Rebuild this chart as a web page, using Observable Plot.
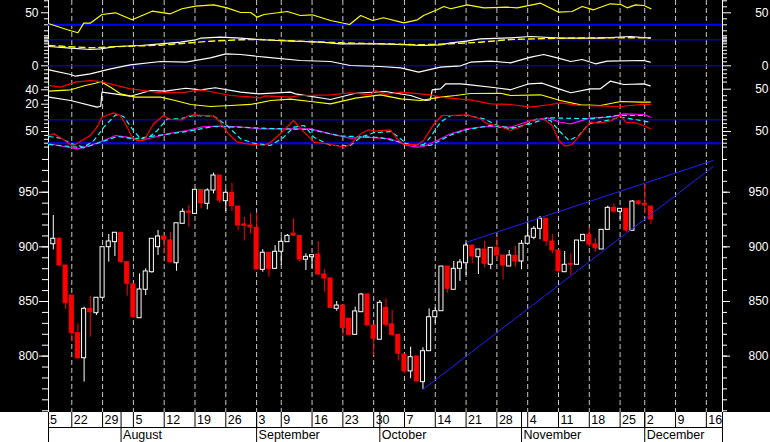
<!DOCTYPE html>
<html><head><meta charset="utf-8">
<script src="https://cdn.jsdelivr.net/npm/d3@7"></script>
<script src="https://cdn.jsdelivr.net/npm/@observablehq/plot@0.6"></script>
<style>
html,body{margin:0;padding:0;background:#000;}
#chart{position:relative;width:770px;height:442px;background:#000;overflow:hidden;}
#chart svg{position:absolute;left:0;overflow:visible;max-width:none;}
</style></head><body><div id="chart"></div>
<script>
// ---------- candles (S&P 500, Jul 17 – Dec 3 2002, one per trading day) ----------
const opens  = [902.4,907.4,882.9,855.5,821.0,798.1,843.3,839.3,853.4,899.7,904.3,912.9,886.0,865.6,834.7,860.7,876.8,899.7,909.5,905.8,885.0,921.1,932.3,930.2,952.2,939.4,951.6,965.3,941.8,949.5,936.9,920.5,919.5,917.4,879.0,894.6,879.9,895.5,904.3,912.2,910.1,888.2,890.5,893.0,874.7,871.1,843.3,846.3,834.2,819.5,840.2,856.4,828.0,815.0,844.2,829.0,819.5,801.5,786.0,799.7,776.2,804.5,835.6,841.1,882.0,860.7,879.9,885.0,901.2,890.5,897.6,883.6,899.1,892.1,882.0,891.8,886.6,902.8,908.3,916.5,925.7,904.9,896.7,876.8,884.5,883.6,905.2,911.0,902.2,897.6,915.6,935.7,932.1,934.8,914.7,941.5,939.4,936.9];
const highs  = [928.7,908.3,882.9,855.5,829.6,844.8,854.6,853.4,899.7,911.3,912.9,912.9,886.0,865.6,875.3,879.9,907.4,915.0,909.5,913.4,921.6,934.8,937.8,952.2,952.2,953.1,967.4,965.3,952.5,958.2,936.9,927.1,930.2,930.8,897.3,894.6,901.2,908.3,911.3,925.7,910.1,893.6,892.4,904.9,879.3,871.1,850.0,846.3,834.2,844.8,857.1,856.4,828.0,850.9,852.5,841.8,819.5,801.5,808.2,799.7,807.6,843.3,844.2,882.0,882.0,886.6,888.4,903.7,901.2,897.6,905.2,899.1,908.3,892.1,896.7,900.3,905.8,922.6,918.6,927.8,925.7,911.3,896.7,895.8,893.6,905.8,911.0,917.4,907.4,915.6,937.2,939.4,934.8,934.8,942.4,942.4,957.1,936.9];
const lows   = [897.3,882.9,842.7,813.4,796.9,776.2,817.3,837.2,853.4,886.0,891.2,884.5,854.9,834.5,834.7,855.5,875.9,892.1,894.2,885.0,877.7,921.1,918.0,930.2,934.8,933.9,948.5,939.9,932.3,932.3,915.0,905.2,911.9,879.3,876.8,872.2,879.9,882.9,904.3,909.5,886.0,878.4,879.9,873.8,858.5,844.2,841.1,818.0,818.3,819.5,840.2,828.0,800.6,815.0,826.5,818.0,795.4,783.9,779.3,776.2,769.5,804.5,829.6,841.1,857.6,860.7,868.3,873.8,884.5,874.7,880.8,879.0,887.5,869.9,882.0,881.4,879.0,902.8,906.5,906.5,900.6,893.6,875.9,876.8,873.8,883.6,905.2,899.7,895.1,897.6,915.6,930.8,924.8,913.4,914.7,937.8,930.2,920.5];
const closes = [907.4,882.9,848.4,821.0,798.1,843.3,840.2,853.4,899.7,904.9,912.9,886.0,866.2,835.6,861.0,877.5,907.4,909.5,906.5,886.0,921.6,932.1,931.2,952.2,939.9,951.6,965.3,942.4,949.5,937.2,919.5,919.3,917.7,879.3,894.6,879.9,895.5,904.6,910.1,910.4,888.4,890.9,892.4,874.7,871.1,844.2,846.3,825.9,819.5,840.9,856.4,828.0,815.9,848.8,828.7,819.5,802.2,786.0,799.0,776.8,804.5,835.6,841.1,882.0,861.6,879.9,885.7,901.2,891.2,897.6,884.5,899.1,892.1,882.9,892.1,886.6,902.8,909.5,916.5,925.7,905.2,896.7,877.7,883.6,883.6,905.8,911.0,902.2,898.8,915.6,935.7,932.3,934.8,915.0,941.5,939.4,937.8,925.0];

// ---------- trend lines (trading-day index, price) ----------
const trendLower = [{i: 60, p: 769.5}, {i: 107.1, p: 973.5}];
const trendUpper = [{i: 67.1, p: 904.3}, {i: 107.1, p: 979.0}];

// ---------- date axis ----------
const weekIdx    = [-2, 3, 8, 13, 18, 23, 28, 33, 37, 42, 47, 52, 57, 62, 67, 72, 77, 82, 87, 92, 96, 101, 106];
const weekLabels = ["15","22","29","5","12","19","26","3","9","16","23","30","7","14","21","28","4","11","18","25","2","9","16"];
const monthIdx    = [11, 33, 53, 76, 96];
const monthLabels = ["August","September","October","November","December"];

// ---------- indicators: [trading-day index, value] ----------
const ind1Yellow = [[-0.7,31.7],[2.3,21.7],[4.0,16.7],[4.95,32.7],[6.0,32.7],[7.9,47.2],[10.1,50],[12.8,38.3],[16.05,52.7],[19.0,48.3],[20.9,56.7],[23.1,61],[26.05,63.3],[28.2,58.3],[30.4,50.5],[32.0,50.5],[33.1,42.7],[34.2,47.2],[38.0,52.2],[40.1,45.5],[42.0,46.7],[45.0,37.2],[48.1,30.5],[49.9,45.5],[51.8,37.2],[53.6,41.7],[56.9,33.3],[59.1,38.3],[60.1,45.5],[62.3,55],[63.4,60.5],[64.5,56.7],[67.2,63.3],[69.9,58.3],[73.7,59.3],[75.3,58.3],[79.1,66],[82.05,51],[84.2,52.2],[85.85,60.5],[87.7,55],[90.4,65],[92.1,63.8],[93.15,58.3],[94.5,63.3],[95.85,62.2],[97.0,56.7]];
const ind2White = [[-0.7,-13.4],[2.8,-16.8],[6.0,-19.4],[7.7,-18],[10.1,-13.4],[14.15,-11.4],[17.4,-8],[20.65,-4.8],[23.1,0],[23.9,3.2],[27.1,5.2],[30.4,3.2],[33.3,0.6],[36.1,-1.4],[43.4,-4.8],[46.6,-8],[53.1,-8],[58.0,-10],[59.6,-11.4],[62.85,-10],[64.5,-6],[67.1,-2.8],[69.3,2],[74.2,4],[77.5,6.6],[82.3,3.2],[88.8,3.2],[93.7,6.6],[96.9,3.2]];
const ind2Yellow = [[-0.7,-11.4],[6.0,-16],[12.5,-12.8],[17.4,-10.8],[22.3,-6],[25.5,-2.8],[30.4,0],[33.3,0.6],[40.1,-2.8],[46.6,-6],[53.1,-8],[59.6,-10],[64.5,-8],[69.3,-4.8],[74.2,0.6],[82.3,3.2],[88.8,4],[96.9,4]];
const ind3White = [[-0.7,-4],[2.8,-8.7],[3.6,-10.4],[6.0,-8],[9.3,-3],[12.5,1],[17.4,4.3],[21.5,3.6],[25.5,8],[28.0,12],[30.4,11.3],[33.3,9.3],[34.4,8.6],[40.1,5.3],[45.0,4.3],[48.2,0.3],[53.1,-0.7],[56.4,-2],[59.3,-6.4],[62.85,-1.4],[66.1,0],[67.7,3.6],[71.0,4.6],[74.2,3],[77.5,8.6],[79.6,11.3],[81.8,8],[84.0,4.3],[85.85,6.3],[88.0,2],[89.9,4.6],[95.85,5.3],[96.9,3.6]];
const ind4Red = [[-0.7,47.7],[1.2,45.1],[3.6,52.8],[6.0,55.4],[7.7,53.8],[12.5,42.6],[17.4,36.5],[21.5,37.4],[23.9,41.1],[28.8,32.3],[33.6,28.8],[34.4,31.8],[38.5,29.7],[40.1,32.3],[45.0,33.4],[48.2,36.5],[51.5,33.4],[52.3,40],[53.9,33.8],[56.4,37.4],[59.6,34.9],[61.2,33.4],[62.85,29.7],[66.1,26.6],[67.7,25.7],[71.0,19.5],[74.2,18.5],[77.5,14.3],[80.7,18.5],[82.3,21.1],[85.6,16.9],[92.1,15.4],[95.3,18.5],[96.9,18.5]];
const ind4Yellow = [[-0.7,38.9],[2.8,41.1],[5.2,47.7],[6.85,51.2],[7.7,53.8],[9.3,45.1],[10.9,34.9],[13.3,29.7],[17.4,29.7],[19.8,24.6],[22.3,18.5],[25.5,15.4],[28.8,16.9],[32.0,18.5],[35.3,24.6],[38.5,26.6],[41.75,23.1],[45.0,19.5],[49.05,28.2],[53.1,33.4],[56.4,27.2],[59.6,24.6],[62.85,29.7],[65.3,32.3],[67.7,35.4],[72.6,35.8],[74.2,32.3],[79.1,33.4],[82.3,24.6],[85.6,18],[88.8,16.9],[92.1,23.1],[95.3,22],[96.9,22]];
const ind4White = [[-0.7,29.7],[2.8,24.6],[7.1,14.3],[7.7,15.8],[7.9,37.4],[12.5,31.2],[15.8,40],[18.2,38.9],[21.5,43.5],[23.9,41.1],[26.3,44.2],[30.4,37.4],[33.3,34.9],[38.5,37.4],[39.3,34.9],[45.0,26.2],[49.05,35.8],[53.9,38.5],[58.0,32.3],[60.4,24.6],[61.2,25.7],[61.5,41.1],[62.85,42.6],[63.7,50.3],[66.1,50.3],[67.7,48.8],[71.8,44.2],[74.2,41.1],[77.2,50.3],[79.35,51.2],[82.05,42.6],[84.0,36.5],[87.2,42.6],[88.8,42.6],[90.4,54.3],[92.6,49.2],[95.85,50.3],[96.9,47.2]];
const ind5Red = [[-0.7,39.7],[0.1,44.1],[2.3,22.6],[3.1,12.3],[3.9,20],[6.0,39.7],[7.1,61],[7.9,86.7],[9.8,97.9],[10.9,91],[12.0,61],[12.8,35.4],[13.6,26.9],[14.7,26.9],[16.3,69.7],[17.9,91],[19.0,80.8],[20.9,80],[22.0,91],[22.8,92.8],[26.05,89.2],[27.1,73.8],[28.2,48.2],[29.85,22.6],[31.5,18.5],[34.2,14.1],[35.25,22.6],[37.15,48.2],[39.0,78.2],[40.7,48.2],[42.3,22.6],[44.5,18.5],[47.15,9.7],[48.2,16.7],[49.9,44.1],[51.2,54.4],[52.3,50.8],[54.7,54.4],[55.8,31.3],[56.9,16.7],[59.1,16.7],[60.1,26.9],[61.8,69.7],[63.1,91],[64.5,91],[67.2,92.8],[69.3,82.6],[70.4,69.7],[72.05,65.4],[74.2,52.6],[75.8,61],[77.5,78.2],[79.6,82.6],[81.0,65.4],[82.05,26.9],[83.1,12.3],[84.2,16.7],[85.85,48.2],[87.2,73.8],[88.5,71.3],[90.4,76.4],[92.1,91],[92.9,73.8],[94.8,71.3],[97.0,56.9]];
const ind5CyanFast = [[-0.7,37.2],[0.9,33.8],[3.1,18.5],[4.95,9.7],[6.6,26.9],[8.2,61],[10.1,92.8],[11.4,88.5],[12.8,56.9],[14.15,31.3],[15.5,35.4],[16.9,52.6],[18.5,82.6],[20.65,82.6],[22.8,91],[26.05,89.2],[28.2,65.4],[30.4,31.3],[32.5,20],[35.25,14.1],[37.4,35.4],[39.0,61],[40.7,65.4],[42.3,35.4],[45.0,14.1],[48.2,14.1],[49.9,35.4],[52.0,46.7],[54.7,50],[56.1,35.4],[57.4,16.7],[60.1,15.9],[61.2,35.4],[62.85,73.8],[64.5,91],[67.2,91],[69.9,82.6],[72.05,65.4],[74.2,59],[76.4,65.4],[78.5,82.6],[80.7,78.2],[82.05,52.6],[83.7,26.9],[85.3,39.7],[86.9,69.7],[90.4,80],[92.1,86.7],[93.7,82.6],[96.9,73.8]];
const ind5Magenta = [[-0.7,18.5],[2.3,9.7],[3.9,5.6],[6.0,14.1],[8.2,26.9],[10.1,39.7],[12.0,35.4],[14.15,26.9],[16.9,37.2],[18.5,44.1],[21.7,52.6],[23.9,61],[26.6,63.6],[29.3,62.8],[33.6,56.9],[37.4,56.9],[41.75,56.9],[45.0,44.1],[48.2,32.8],[50.95,35.4],[54.7,31.3],[57.4,14.1],[59.1,9.7],[60.1,11.5],[62.3,26.9],[64.5,44.1],[67.2,56.9],[69.9,62.8],[74.2,61],[77.5,78.2],[80.2,85.1],[82.3,73.8],[84.0,69.7],[87.2,85.1],[90.4,86.7],[92.6,95.4],[95.85,93.6],[97.0,86.7]];
const ind5CyanSlow = [[-0.7,16.7],[4.95,8.2],[7.7,22.6],[10.4,37.2],[13.1,31.3],[16.9,39.7],[21.7,50],[26.05,62.8],[30.4,61],[35.25,57.7],[41.75,55.1],[46.6,38.5],[53.1,34.6],[58.0,16.7],[61.2,14.1],[64.5,41],[67.2,55.1],[71.0,65.4],[74.2,56.9],[77.5,69.7],[80.2,85.1],[87.2,82.6],[91.5,91],[95.85,91]];

// ---------- layout ----------
const W = 770, ML = 48, MR = 48;
const xDomain = [-0.78, 108.62];
const FONT = "'Liberation Sans', Arial, sans-serif";
const BLUE = "#0000ff";
const chart = document.getElementById("chart");

function place(opts, top) {
  const o = Object.assign({
    width: W, marginTop: 0, marginBottom: 0, marginLeft: ML, marginRight: MR,
    x: {domain: xDomain, axis: null},
    style: {background: "transparent", color: "white", fontFamily: FONT, fontSize: "12px", overflow: "visible"}
  }, opts);
  const svg = Plot.plot(o);
  svg.style.position = "absolute";
  svg.style.left = "0px";
  svg.style.top = top + "px";
  chart.appendChild(svg);
  return svg;
}
const blank = () => "";
function yAxes({minorL = [], minorR = minorL, major = [], majorR = major, fmtR, longL = 7, shortL = 4, longR = 8, shortR = 4, dyL = 0}) {
  return [
    Plot.axisY({anchor: "left", ticks: minorL, tickSize: shortL, tickFormat: blank, label: null}),
    Plot.axisY({anchor: "right", ticks: minorR, tickSize: shortR, tickFormat: blank, label: null}),
    Plot.axisY({anchor: "left", ticks: major, tickSize: longL, tickPadding: 48 - longL - 38, dy: dyL, label: null}),
    Plot.axisY({anchor: "right", ticks: majorR, tickSize: longR, tickPadding: 768 - 722 - longR, textAnchor: "end", label: null, ...(fmtR ? {tickFormat: fmtR} : {})})
  ];
}
const pts = {x: d => d[0], y: d => d[1]};

// background: weekly dashed grid + axis lines
place({height: 412, marks: [
  Plot.ruleX(weekIdx, {x: d => d, stroke: "#c8c8c8", strokeDasharray: "5,3", clip: true}),
  Plot.frame({anchor: "left", stroke: "white"}),
  Plot.frame({anchor: "right", stroke: "white"})
]}, 0);

// price panel
const candles = opens.map((o, i) => ({i, open: o, high: highs[i], low: lows[i], close: closes[i]}));
const up = candles.filter(d => d.close >= d.open);
const down = candles.filter(d => d.close < d.open);
place({height: 269, y: {domain: [748.4, 994.6]}, marks: [
  ...yAxes({minorL: d3.range(750, 990, 10), major: [800, 850, 900, 950], longL: 9, shortL: 6, longR: 7, shortR: 4}),
  Plot.ruleX(down, {x: "i", y1: "low", y2: "high", stroke: "#ff0000"}),
  Plot.rect(down, {x1: d => d.i - 0.33, x2: d => d.i + 0.33, y1: "open", y2: "close", fill: "#ff0000", stroke: "#ff0000"}),
  Plot.ruleX(up, {x: "i", y1: "low", y2: "high", stroke: "white"}),
  Plot.rect(up, {x1: d => d.i - 0.33, x2: d => d.i + 0.33, y1: "open", y2: "close", fill: "black", stroke: "white"}),
  Plot.line(trendLower, {x: "i", y: "p", stroke: "#2020ff", strokeWidth: 1}),
  Plot.line(trendUpper, {x: "i", y: "p", stroke: "#2020ff", strokeWidth: 1})
]}, 143);

// indicator 1
place({height: 34, y: {domain: [13.83, 70.5]}, marks: [
  ...yAxes({minorL: [70, 60, 40, 30, 20], major: [50]}),
  Plot.ruleY([30], {stroke: BLUE, strokeWidth: 2}),
  Plot.line(ind1Yellow, {...pts, stroke: "#ffff00", strokeWidth: 1.2})
]}, 0);

// indicator 2
place({height: 18, y: {domain: [-25.4, 10.6]}, marks: [
  ...yAxes({minorL: [8, 5, 2, -1, -4, -8, -14, -21]}),
  Plot.ruleY([0], {stroke: BLUE, strokeWidth: 1}),
  Plot.line(ind2White, {...pts, stroke: "white", strokeWidth: 1.2}),
  Plot.line(ind2Yellow, {...pts, stroke: "#ffff00", strokeWidth: 1.4, strokeDasharray: "6,4"})
]}, 34);

// indicator 3
place({height: 26, y: {domain: [-12.7, 13.3]}, marks: [
  ...yAxes({minorL: [12, 8, 4, -4, -8, -12], major: [0]}),
  Plot.ruleY([0], {stroke: BLUE, strokeWidth: 1}),
  Plot.line(ind3White, {...pts, stroke: "white", strokeWidth: 1.2})
]}, 52);

// indicator 4
place({height: 32, y: {domain: [9.23, 58.46]}, marks: [
  ...yAxes({minorL: [58, 53, 45, 32, 25, 14], minorR: [53, 32, 25, 14], majorR: [42], fmtR: () => "50"}),
  Plot.axisY({anchor: "left", ticks: [40], tickSize: 7, tickPadding: 3, dy: -0.7, label: null}),
  Plot.axisY({anchor: "left", ticks: [20], tickSize: 7, tickPadding: 3, dy: 0.7, label: null}),
  Plot.line(ind4White, {...pts, stroke: "white", strokeWidth: 1.2}),
  Plot.line(ind4Yellow, {...pts, stroke: "#ffff00", strokeWidth: 1.2}),
  Plot.line(ind4Red, {...pts, stroke: "#ff0000", strokeWidth: 1.2})
]}, 78);

// indicator 5
place({height: 40, y: {domain: [1.28, 103.85]}, marks: [
  ...yAxes({minorL: [100, 90, 80, 70, 60, 40, 30, 20, 10], major: [50]}),
  Plot.ruleY([80], {stroke: BLUE, strokeWidth: 1}),
  Plot.ruleY([20], {stroke: BLUE, strokeWidth: 2}),
  Plot.line(ind5Magenta, {...pts, stroke: "#ff00ff", strokeWidth: 1.2}),
  Plot.line(ind5CyanSlow, {...pts, stroke: "#00ffff", strokeWidth: 1.2, strokeDasharray: "4,4"}),
  Plot.line(ind5CyanFast, {...pts, stroke: "#00ffff", strokeWidth: 1.2, strokeDasharray: "4,4"}),
  Plot.line(ind5Red, {...pts, stroke: "#ff0000", strokeWidth: 1.2})
]}, 110);

// date strip
const strip = place({height: 30, y: {domain: [0, 2], reverse: true, axis: null},
  style: {background: "white", color: "black", fontFamily: FONT, fontSize: "12.5px", overflow: "hidden"},
  marks: [
    Plot.ruleY([1], {stroke: "black"}),
    Plot.ruleX(weekIdx, {x: d => d, y1: 0, y2: 1, stroke: "black", clip: true}),
    Plot.ruleX(monthIdx, {x: d => d, y1: 0, y2: 2, stroke: "black"}),
    Plot.frame({anchor: "left", stroke: "black"}),
    Plot.frame({anchor: "right", stroke: "black"}),
    Plot.text(weekIdx, {x: d => d, y: 0.5, text: (d, i) => weekLabels[i], dx: 2, textAnchor: "start", fill: "black", clip: true}),
    Plot.text(monthIdx, {x: d => d, y: 1.5, text: (d, i) => monthLabels[i], dx: 2, textAnchor: "start", fill: "black"})
  ]}, 412);
strip.style.width = "770px";
</script></body></html>
